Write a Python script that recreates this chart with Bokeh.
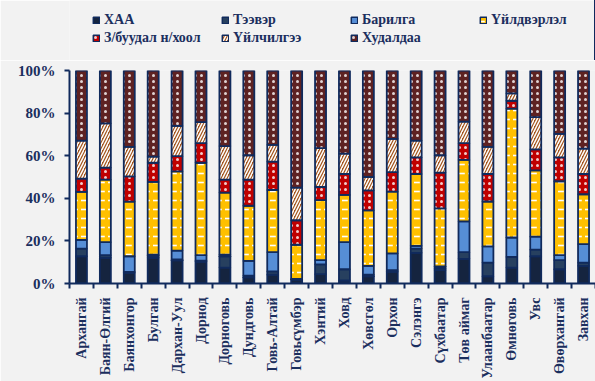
import math
from bokeh.plotting import figure
from bokeh.layouts import column
from bokeh.models import (ColumnDataSource, Legend, LegendItem,
                          FixedTicker, PrintfTickFormatter, Range1d)
from bokeh.embed import file_html
from bokeh.resources import INLINE

categories = ["Архангай", "Баян-Өлгий", "Баянхонгор", "Булган", "Дархан-Уул",
              "Дорнод", "Дорноговь", "Дундговь", "Говь-Алтай", "Говьсүмбэр",
              "Хэнтий", "Ховд", "Хөвсгөл", "Орхон", "Сэлэнгэ", "Сүхбаатар",
              "Төв аймаг", "Улаанбаатар", "Өмнөговь", "Увс", "Өвөрхангай", "Завхан"]

series_names = ["ХАА", "Тээвэр", "Барилга", "Үйлдвэрлэл",
                "З/буудал н/хоол", "Үйлчилгээ", "Худалдаа"]

xaa = [12.8, 12.1, 5.0, 12.1, 10.9, 10.2, 7.5, 2.9, 4.1, 1.8, 4.4,
       1.4, 3.4, 5.5, 14.4, 6.3, 11.6, 3.4, 7.5, 12.8, 6.7, 8.3]
teever = [3.6, 1.2, 0.5, 1.0, 0.4, 0.5, 5.3, 0.8, 1.6, 0.2, 4.6,
          5.3, 0.7, 0.8, 2.0, 0.9, 3.1, 6.4, 5.0, 3.1, 4.3, 1.5]
barilga = [4.1, 6.1, 7.3, 0.5, 4.1, 2.6, 0.8, 6.9, 9.0, 0.2, 2.0,
           12.7, 4.2, 7.8, 1.3, 0.8, 14.5, 7.6, 9.1, 6.1, 2.3, 8.7]
uildverlel = [22.5, 29.4, 25.6, 34.1, 37.2, 43.4, 29.1, 25.9, 29.2, 16.0, 28.1,
              22.2, 26.0, 29.0, 33.7, 27.3, 28.8, 21.1, 60.5, 31.1, 34.7, 23.4]
zbuudal = [6.2, 5.6, 11.9, 9.0, 7.2, 9.2, 6.1, 12.3, 13.3, 11.5, 6.2,
           9.8, 9.4, 9.2, 7.8, 16.8, 7.9, 12.9, 3.7, 9.9, 11.2, 9.5]
uilchilgee = [17.9, 20.8, 13.8, 2.9, 14.2, 9.9, 15.7, 11.4, 7.9, 15.3, 18.3,
              9.6, 6.3, 15.6, 7.9, 8.1, 10.1, 12.7, 3.5, 15.1, 11.0, 11.9]
khudaldaa = [32.9, 24.8, 35.9, 40.4, 26.0, 24.2, 35.5, 39.8, 34.9, 55.0, 36.4,
             39.0, 50.0, 32.1, 32.9, 39.8, 24.0, 35.9, 10.7, 21.9, 29.8, 36.7]

y_ticks = [0, 20, 40, 60, 80, 100]

keys = ["s0", "s1", "s2", "s3", "s4", "s5", "s6"]
series_values = [xaa, teever, barilga, uildverlel, zbuudal, uilchilgee, khudaldaa]

n = len(categories)
x_pos = list(range(n))
data = {"x": x_pos}
for k, v in zip(keys, series_values):
    data[k] = v
source = ColumnDataSource(data)

BG = "#f2f2f2"
NAVY = "#102a5c"
TEXT = "#1b2f5e"
FONT = "Liberation Serif"

fills = ["#15243f", "#27405f", "#568ed6", "#ffc000", "#c00000", "#a3561f", "#5e2222"]
patterns = [" ", " ", " ", '"', ".", "/", "."]
hscales = [10, 10, 10, 9, 6, 6, 6]
hweights = [1, 1, 1, 1.6, 1, 1.5, 1]
halphas = [1, 1, 1, 1, 0.8, 1, 0.8]
hatch_kw = dict(hatch_pattern=patterns, hatch_color="white",
                hatch_scale=hscales, hatch_weight=hweights, hatch_alpha=halphas)

# ---------------- main chart ----------------
p = figure(width=595, height=321, output_backend="svg", toolbar_location=None,
           x_range=Range1d(-0.5, n - 0.5), y_range=Range1d(0, 100),
           min_border_left=69, min_border_right=0, min_border_top=10,
           min_border_bottom=10)
p.background_fill_color = BG
p.border_fill_color = BG
p.outline_line_color = None
p.xgrid.visible = False
p.ygrid.visible = False

renderers = p.vbar_stack(keys, x="x", width=0.46, source=source,
                         fill_color=fills, line_color=NAVY, line_width=1.8,
                         **hatch_kw)

p.yaxis.ticker = FixedTicker(ticks=y_ticks)
p.yaxis.formatter = PrintfTickFormatter(format="%d%%")
p.yaxis.axis_line_color = NAVY
p.yaxis.axis_line_width = 2
p.yaxis.major_tick_line_color = NAVY
p.yaxis.major_tick_line_width = 2
p.yaxis.major_tick_in = 0
p.yaxis.major_tick_out = 5
p.yaxis.minor_tick_line_color = None
p.yaxis.major_label_standoff = 9
p.yaxis.major_label_text_font = FONT
p.yaxis.major_label_text_font_style = "bold"
p.yaxis.major_label_text_font_size = "15px"
p.yaxis.major_label_text_color = TEXT

xa = p.xaxis[0]
xa.ticker = FixedTicker(ticks=x_pos, minor_ticks=[i - 0.5 for i in range(n + 1)])
xa.major_label_overrides = {i: c for i, c in zip(x_pos, categories)}
xa.major_label_orientation = math.pi / 2
xa.axis_line_color = NAVY
xa.axis_line_width = 2
xa.major_tick_line_color = None
xa.major_tick_in = 0
xa.major_tick_out = 0
xa.minor_tick_line_color = NAVY
xa.minor_tick_line_width = 2
xa.minor_tick_in = 0
xa.minor_tick_out = 5
xa.major_label_standoff = 9
xa.major_label_text_font = FONT
xa.major_label_text_font_style = "bold"
xa.major_label_text_font_size = "14px"
xa.major_label_text_color = TEXT

# ---------------- legend strip ----------------
lg = figure(width=595, height=60, output_backend="svg", toolbar_location=None,
            x_range=Range1d(-1000, -999), y_range=Range1d(0, 1),
            min_border=0, x_axis_type=None, y_axis_type=None)
lg.background_fill_color = BG
lg.border_fill_color = BG
lg.outline_line_color = None
lg.xgrid.visible = False
lg.ygrid.visible = False

leg_rs = lg.vbar_stack(keys, x="x", width=0.46, source=source,
                       fill_color=fills, line_color=NAVY, line_width=1.5,
                       **hatch_kw)

legend_style = dict(orientation="horizontal", glyph_width=8, glyph_height=8,
                    label_standoff=4, label_width=117, label_height=18,
                    spacing=0, padding=0, margin=0,
                    background_fill_alpha=0, border_line_color=None,
                    label_text_font=FONT, label_text_font_style="bold",
                    label_text_font_size="14px", label_text_color=TEXT)

row1 = [LegendItem(label=series_names[i], renderers=[leg_rs[i]]) for i in range(4)]
row2 = [LegendItem(label=series_names[i], renderers=[leg_rs[i]]) for i in range(4, 7)]
lg.add_layout(Legend(items=row1, location=(23, 31), **legend_style), "center")
lg.add_layout(Legend(items=row2, location=(23, 13), **legend_style), "center")

layout = column(lg, p, spacing=0)
open("out.html", "w").write(file_html(layout, INLINE))
